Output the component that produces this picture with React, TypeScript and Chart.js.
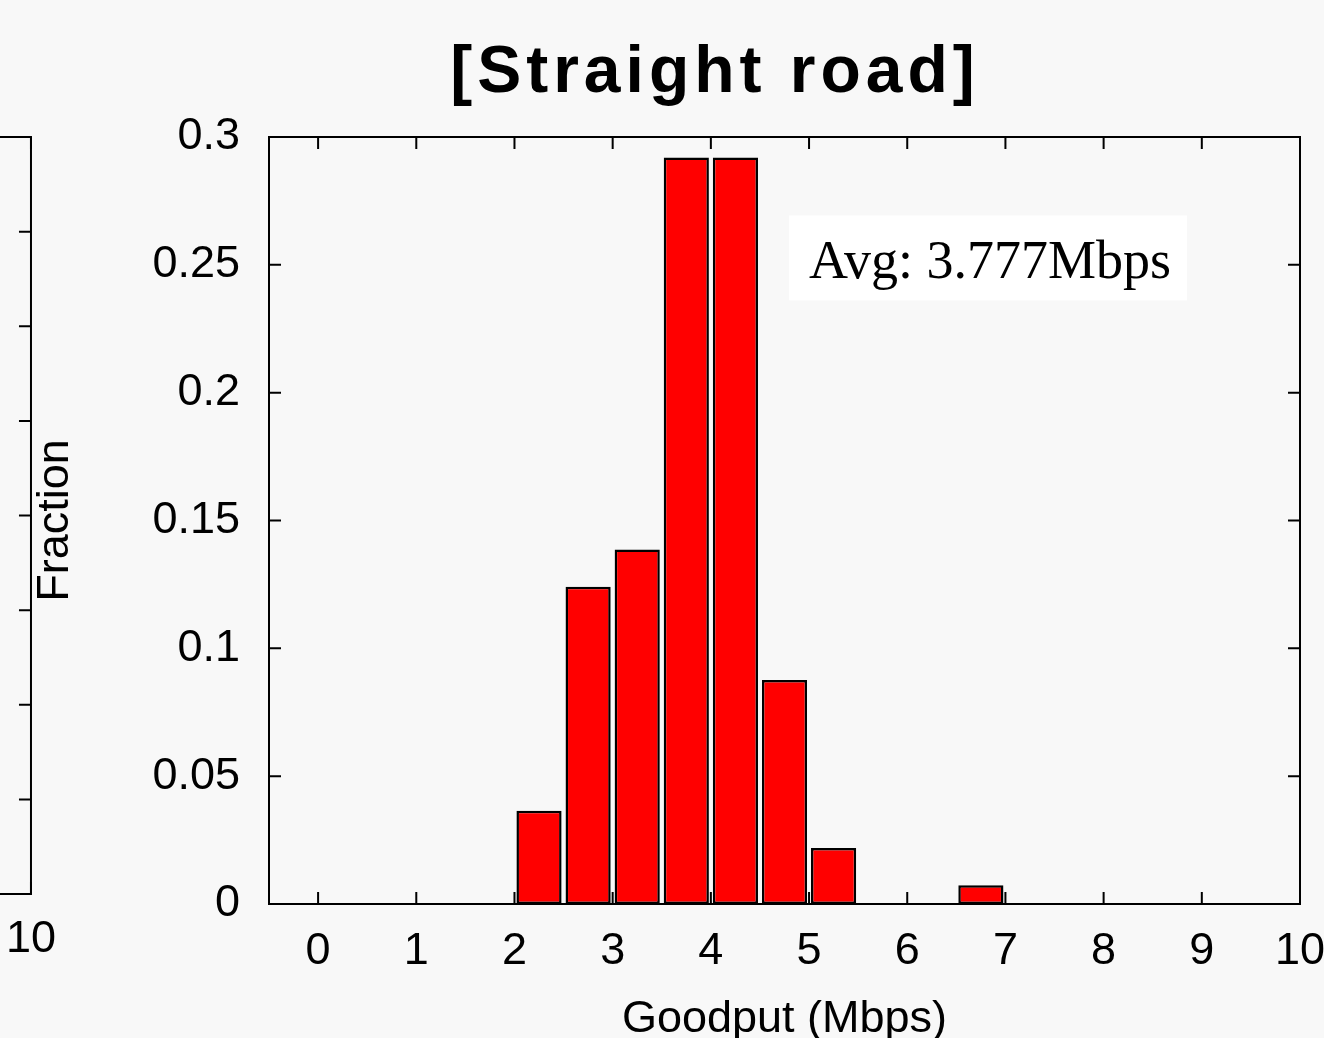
import { useEffect, useRef } from 'react';
import { Chart, registerables } from 'chart.js';

Chart.register(...registerables);

// ---------- data ----------
const TITLE = '[Straight road]';
const X_TITLE = 'Goodput (Mbps)';
const Y_TITLE = 'Fraction';
const AVG_LABEL = 'Avg: 3.777Mbps';

// histogram bins (bin centers, 0.5 Mbps wide) and fractions
const BIN_CENTERS = [
  0.25, 0.75, 1.25, 1.75, 2.25, 2.75, 3.25, 3.75, 4.25, 4.75,
  5.25, 5.75, 6.25, 6.75, 7.25, 7.75, 8.25, 8.75, 9.25, 9.75,
];
const FRACTIONS = [
  0, 0, 0, 0, 0.0365, 0.1241, 0.1387, 0.292, 0.292, 0.0876,
  0.0219, 0, 0, 0.0073, 0, 0, 0, 0, 0, 0,
];

const X_TICKS = [0, 1, 2, 3, 4, 5, 6, 7, 8, 9, 10];
const Y_TICKS = [0, 0.05, 0.1, 0.15, 0.2, 0.25, 0.3];
const Y_TICK_LABELS = ['0', '0.05', '0.1', '0.15', '0.2', '0.25', '0.3'];
// neighbouring (cropped) panel on the left
const LEFT_Y_TICKS = [0, 0.05, 0.1, 0.15, 0.2, 0.25, 0.3, 0.35, 0.4];
const LEFT_Y_TICK_LABELS = ['0', '0.05', '0.1', '0.15', '0.2', '0.25', '0.3', '0.35', '0.4'];

// annotation anchor (data units)
const AVG_X = 5.0;
const AVG_Y = 0.2447;

// ---------- styles ----------
const SANS = "'Liberation Sans', Arial, Helvetica, sans-serif";
const SERIF = "'Liberation Serif', 'Times New Roman', serif";
const TICK_FONT = { family: SANS, size: 45 };

const framePlugin = {
  id: 'frame',
  afterDraw(chart: any) {
    const { ctx, chartArea: a, scales } = chart;
    const xs = scales.x;
    const ys = scales.y;
    const L = 12;
    ctx.save();
    ctx.strokeStyle = '#000';
    ctx.lineWidth = 2;
    ctx.beginPath();
    xs.ticks.forEach((t: any) => {
      const px = xs.getPixelForValue(t.value);
      ctx.moveTo(px, a.bottom);
      ctx.lineTo(px, a.bottom - L);
      ctx.moveTo(px, a.top);
      ctx.lineTo(px, a.top + L);
    });
    ys.ticks.forEach((t: any) => {
      const py = ys.getPixelForValue(t.value);
      ctx.moveTo(a.left, py);
      ctx.lineTo(a.left + L, py);
      ctx.moveTo(a.right, py);
      ctx.lineTo(a.right - L, py);
    });
    ctx.stroke();
    ctx.strokeRect(a.left, a.top, a.right - a.left, a.bottom - a.top);
    ctx.restore();
  },
};

const titleSpacingPlugin = {
  id: 'titleSpacing',
  beforeDraw(chart: any) {
    (chart.ctx as any).letterSpacing = '5px';
  },
  beforeDatasetsDraw(chart: any) {
    (chart.ctx as any).letterSpacing = '0px';
  },
};

const avgLabelPlugin = {
  id: 'avgLabel',
  afterDatasetsDraw(chart: any) {
    const { ctx, scales } = chart;
    const fs = 54;
    const tx = scales.x.getPixelForValue(AVG_X);
    const ty = scales.y.getPixelForValue(AVG_Y);
    ctx.save();
    ctx.font = `${fs}px ${SERIF}`;
    const w = ctx.measureText(AVG_LABEL).width;
    ctx.fillStyle = '#ffffff';
    ctx.fillRect(tx - 20, ty - 63, w + 36, 85);
    ctx.fillStyle = '#000';
    ctx.textAlign = 'left';
    ctx.textBaseline = 'alphabetic';
    ctx.fillText(AVG_LABEL, tx, ty);
    ctx.restore();
  },
};

export default function App() {
  const mainRef = useRef<HTMLCanvasElement | null>(null);
  const leftRef = useRef<HTMLCanvasElement | null>(null);

  useEffect(() => {
    Chart.defaults.color = '#000';
    Chart.defaults.font.family = SANS;

    const main = new Chart(mainRef.current as HTMLCanvasElement, {
      type: 'bar',
      data: {
        datasets: [
          {
            label: 'Fraction',
            data: BIN_CENTERS.map((x, i) => ({ x, y: FRACTIONS[i] })),
            backgroundColor: '#ff0000',
            borderColor: '#000000',
            borderWidth: 2.5,
            borderSkipped: false,
            inflateAmount: 0,
            barPercentage: 0.92,
            categoryPercentage: 1,
          } as any,
        ],
      },
      plugins: [titleSpacingPlugin, avgLabelPlugin, framePlugin],
      options: {
        responsive: false,
        devicePixelRatio: 1,
        animation: false,
        layout: { padding: { left: 0, right: 0, top: 0, bottom: 0 } },
        plugins: {
          legend: { display: false },
          tooltip: { enabled: false },
          title: {
            display: true,
            text: TITLE,
            color: '#000',
            font: { family: SANS, size: 66, weight: 'bold' },
            padding: { top: 34.4, bottom: 23.4 },
          },
        },
        scales: {
          x: {
            type: 'linear',
            min: -0.5,
            max: 10,
            offset: false,
            afterBuildTicks: (s: any) => {
              s.ticks = X_TICKS.map((v) => ({ value: v }));
            },
            afterFit: (s: any) => {
              s.height = 156;
            },
            grid: { display: false, drawTicks: false, offset: false, z: 1 },
            border: { display: false },
            ticks: {
              z: 1,
              font: TICK_FONT,
              color: '#000',
              padding: 21,
              maxRotation: 0,
              autoSkip: false,
              callback: (v: any) => String(v),
            },
            title: {
              display: true,
              text: X_TITLE,
              color: '#000',
              font: { family: SANS, size: 45 },
              padding: { top: 0, bottom: 13 },
            },
          },
          y: {
            type: 'linear',
            position: 'left',
            min: 0,
            max: 0.3,
            afterBuildTicks: (s: any) => {
              s.ticks = Y_TICKS.map((v) => ({ value: v }));
            },
            afterFit: (s: any) => {
              s.width = 269;
            },
            grid: { display: false, drawTicks: false, z: 1 },
            border: { display: false },
            ticks: {
              z: 1,
              font: TICK_FONT,
              color: '#000',
              padding: 29,
              autoSkip: false,
              callback: (_v: any, i: number) => Y_TICK_LABELS[i],
            },
            title: {
              display: true,
              text: Y_TITLE,
              color: '#000',
              font: { family: SANS, size: 45 },
              padding: { top: 29, bottom: 0 },
            },
          },
          yRight: {
            type: 'linear',
            position: 'right',
            display: true,
            min: 0,
            max: 0.3,
            afterFit: (s: any) => {
              s.width = 130;
            },
            grid: { display: false, drawTicks: false, z: 1 },
            border: { display: false },
            ticks: { display: false, z: 1 },
          },
        },
      } as any,
    });

    const left = new Chart(leftRef.current as HTMLCanvasElement, {
      type: 'bar',
      data: { datasets: [] },
      plugins: [framePlugin],
      options: {
        responsive: false,
        devicePixelRatio: 1,
        animation: false,
        layout: { padding: { left: 0, right: 40, top: 137, bottom: 0 } },
        plugins: {
          legend: { display: false },
          tooltip: { enabled: false },
          title: { display: false },
        },
        scales: {
          x: {
            type: 'linear',
            min: -0.5,
            max: 10,
            offset: false,
            afterBuildTicks: (s: any) => {
              s.ticks = X_TICKS.map((v) => ({ value: v }));
            },
            afterFit: (s: any) => {
              s.height = 166;
            },
            grid: { display: false, drawTicks: false, offset: false },
            border: { display: false },
            ticks: {
              font: TICK_FONT,
              color: '#000',
              padding: 19,
              maxRotation: 0,
              autoSkip: false,
              callback: (v: any) => String(v),
            },
          },
          y: {
            type: 'linear',
            min: 0,
            max: 0.4,
            afterBuildTicks: (s: any) => {
              s.ticks = LEFT_Y_TICKS.map((v) => ({ value: v }));
            },
            afterFit: (s: any) => {
              s.width = 269;
            },
            grid: { display: false, drawTicks: false },
            border: { display: false },
            ticks: {
              font: TICK_FONT,
              color: '#000',
              padding: 29,
              autoSkip: false,
              callback: (_v: any, i: number) => LEFT_Y_TICK_LABELS[i],
            },
          },
        },
      } as any,
    });

    return () => {
      main.destroy();
      left.destroy();
    };
  }, []);

  return (
    <div
      style={{
        position: 'fixed',
        left: 0,
        top: 0,
        width: 1324,
        height: 1038,
        overflow: 'hidden',
        background: '#f8f8f8',
      }}
    >
      <canvas
        ref={leftRef}
        width={1371}
        height={1060}
        style={{ position: 'absolute', left: -1296, top: 0, width: 1371, height: 1060 }}
      />
      <canvas
        ref={mainRef}
        width={1430}
        height={1060}
        style={{ position: 'absolute', left: 0, top: 0, width: 1430, height: 1060 }}
      />
    </div>
  );
}
